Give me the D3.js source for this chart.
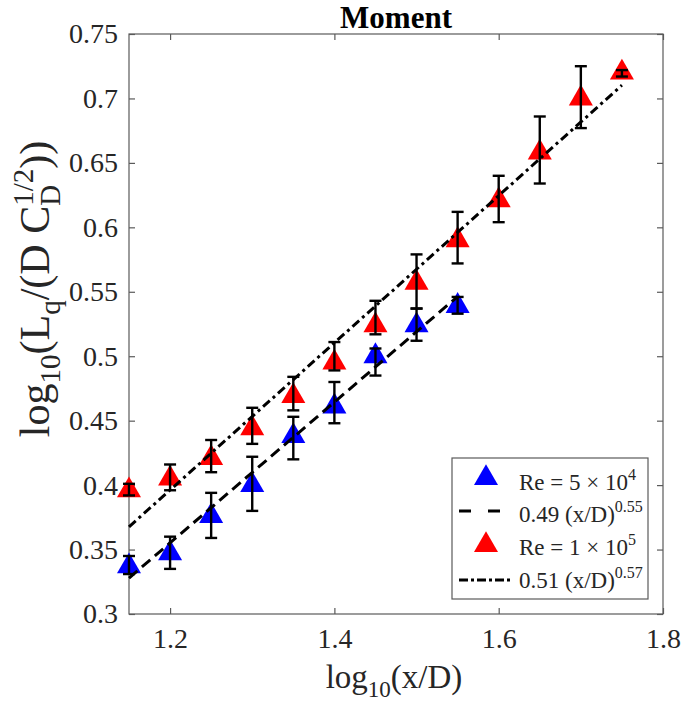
<!DOCTYPE html>
<html><head><meta charset="utf-8">
<script src="https://cdn.jsdelivr.net/npm/d3@7"></script>
<style>body{margin:0;background:#fff}text{font-family:"Liberation Serif","Times New Roman",serif}</style>
</head><body><svg id="c" width="685" height="713"></svg>
<script>
// ---- data ----
const blueX  = [1.15, 1.20, 1.25, 1.30, 1.35, 1.40, 1.45, 1.50, 1.55];
const blueY  = [0.337, 0.347, 0.376, 0.400, 0.438, 0.461, 0.500, 0.524, 0.539];
const blueLo = [0.331, 0.335, 0.359, 0.380, 0.420, 0.448, 0.485, 0.512, 0.533];
const blueHi = [0.345, 0.360, 0.394, 0.422, 0.453, 0.480, 0.506, 0.537, 0.546];

const redX  = [1.15, 1.20, 1.25, 1.30, 1.35, 1.40, 1.45, 1.50, 1.55, 1.60, 1.65, 1.70, 1.75];
const redY  = [0.396, 0.405, 0.421, 0.444, 0.469, 0.495, 0.524, 0.557, 0.590, 0.621, 0.658, 0.700, 0.720];
const redLo = [0.392, 0.396, 0.410, 0.432, 0.458, 0.489, 0.517, 0.537, 0.572, 0.604, 0.634, 0.677, 0.717];
const redHi = [0.401, 0.416, 0.435, 0.460, 0.484, 0.511, 0.543, 0.579, 0.612, 0.640, 0.686, 0.725, 0.722];

// fits in log space: y = a + b*x
const blueFit = {a: -0.300, b: 0.546, x0: 1.15, x1: 1.55};
const redFit  = {a: -0.289, b: 0.571, x0: 1.15, x1: 1.75};

const xTicks = [1.2, 1.4, 1.6, 1.8];
const xTickLabels = ["1.2", "1.4", "1.6", "1.8"];
const yTicks = [0.3, 0.35, 0.4, 0.45, 0.5, 0.55, 0.6, 0.65, 0.7, 0.75];
const yTickLabels = ["0.3", "0.35", "0.4", "0.45", "0.5", "0.55", "0.6", "0.65", "0.7", "0.75"];

// ---- layout ----
const L = 129, T = 34, R = 663, B = 614;
const svg = d3.select("#c");
const x = d3.scaleLinear().domain([1.15, 1.8]).range([L, R]);
const y = d3.scaleLinear().domain([0.3, 0.75]).range([B, T]);
const axisCol = "#5a5a5a", textCol = "#262626";

// frame
svg.append("rect").attr("x", L).attr("y", T).attr("width", R - L).attr("height", B - T)
  .attr("fill", "none").attr("stroke", axisCol).attr("stroke-width", 1.2);

function styleAxis(g) {
  g.select(".domain").remove();
  g.selectAll(".tick line").attr("stroke", axisCol).attr("stroke-width", 1.2);
  g.selectAll(".tick text").attr("fill", textCol).style("font-size", "28px")
    .style("font-family", '"Liberation Serif","Times New Roman",serif');
}
svg.append("g").attr("transform", `translate(0,${B})`)
  .call(d3.axisBottom(x).tickValues(xTicks).tickFormat((d, i) => xTickLabels[i]).tickSize(-6).tickPadding(14))
  .call(styleAxis);
svg.append("g").attr("transform", `translate(0,${T})`)
  .call(d3.axisTop(x).tickValues(xTicks).tickFormat("").tickSize(-6))
  .call(styleAxis);
svg.append("g").attr("transform", `translate(${L},0)`)
  .call(d3.axisLeft(y).tickValues(yTicks).tickFormat((d, i) => yTickLabels[i]).tickSize(-6).tickPadding(11))
  .call(styleAxis);
svg.append("g").attr("transform", `translate(${R},0)`)
  .call(d3.axisRight(y).tickValues(yTicks).tickFormat("").tickSize(-6))
  .call(styleAxis);

// ---- marks ----
const tri = d3.symbol().type(d3.symbolTriangle).size(250);
function drawSeries(xs, ys, color) {
  svg.append("g").selectAll("path").data(xs).join("path")
    .attr("d", tri).attr("fill", color)
    .attr("transform", (d, i) => `translate(${x(d)},${y(ys[i])})`);
}
drawSeries(blueX, blueY, "#0000ff");
drawSeries(redX, redY, "#ff0000");

function drawFit(f, dash) {
  const pts = [f.x0, f.x1];
  svg.append("path").datum(pts)
    .attr("d", d3.line().x(d => x(d)).y(d => y(f.a + f.b * d)))
    .attr("fill", "none").attr("stroke", "#000").attr("stroke-width", 3)
    .attr("stroke-dasharray", dash);
}
drawFit(blueFit, "11,6");
drawFit(redFit, "9,4,3,4");

function drawErr(xs, lo, hi) {
  const g = svg.append("g").attr("stroke", "#000").attr("stroke-width", 2.4);
  xs.forEach((d, i) => {
    const cx = x(d);
    g.append("line").attr("x1", cx).attr("x2", cx).attr("y1", y(lo[i])).attr("y2", y(hi[i]));
    g.append("line").attr("x1", cx - 6).attr("x2", cx + 6).attr("y1", y(lo[i])).attr("y2", y(lo[i]));
    g.append("line").attr("x1", cx - 6).attr("x2", cx + 6).attr("y1", y(hi[i])).attr("y2", y(hi[i]));
  });
}
drawErr(blueX, blueLo, blueHi);
drawErr(redX, redLo, redHi);

// ---- title & labels ----
svg.append("text").attr("x", (L + R) / 2).attr("y", 28).attr("text-anchor", "middle")
  .attr("fill", "#000").style("font-size", "31px").style("font-weight", "bold").text("Moment");

const xl = svg.append("text").attr("x", (L + R) / 2 - 2).attr("y", 688).attr("text-anchor", "middle")
  .attr("fill", textCol).style("font-size", "33px");
xl.append("tspan").text("log");
xl.append("tspan").attr("dy", 9).style("font-size", "23px").text("10");
xl.append("tspan").attr("dy", -9).text("(x/D)");

const yl = svg.append("text").attr("transform", "translate(49,289) rotate(-90)")
  .attr("text-anchor", "middle").attr("fill", textCol).style("font-size", "42px");
yl.append("tspan").text("log");
yl.append("tspan").attr("dy", 11).style("font-size", "29px").text("10");
yl.append("tspan").attr("dy", -11).text("(L");
yl.append("tspan").attr("dy", 11).style("font-size", "29px").text("q");
yl.append("tspan").attr("dy", -11).text("/(D C");
const supT = yl.append("tspan").attr("dy", -16).style("font-size", "29px").text("1/2");
const subT = yl.append("tspan").attr("dy", 27).style("font-size", "29px").text("D");
const closeT = yl.append("tspan").attr("dy", -11).text("))");
const supW = supT.node().getComputedTextLength();
const subW = subT.node().getComputedTextLength();
subT.attr("dx", -supW);
closeT.attr("dx", supW - subW);

// ---- legend ----
const lg = svg.append("g");
lg.append("rect").attr("x", 452).attr("y", 458).attr("width", 196).attr("height", 141)
  .attr("fill", "#fff").attr("stroke", axisCol).attr("stroke-width", 1.2);
const legRows = [
  {kind: "tri", color: "#0000ff", cy: 478, base: 490, main: "Re = 5 \u00d7 10", sup: "4"},
  {kind: "line", dash: "12,17", cy: 511, base: 522, main: "0.49 (x/D)", sup: "0.55"},
  {kind: "tri", color: "#ff0000", cy: 545, base: 555, main: "Re = 1 \u00d7 10", sup: "5"},
  {kind: "line", dash: "9,3,3,3", cy: 580, base: 588, main: "0.51 (x/D)", sup: "0.57"}
];
legRows.forEach(r => {
  if (r.kind === "tri") {
    lg.append("path").attr("d", tri).attr("fill", r.color).attr("transform", `translate(486,${r.cy})`);
  } else {
    lg.append("line").attr("x1", 459).attr("x2", 511).attr("y1", r.cy).attr("y2", r.cy)
      .attr("stroke", "#000").attr("stroke-width", 3).attr("stroke-dasharray", r.dash);
  }
  const t = lg.append("text").attr("x", 519).attr("y", r.base).attr("fill", textCol).style("font-size", "23px");
  t.append("tspan").text(r.main);
  t.append("tspan").attr("dy", -10).style("font-size", "16px").text(r.sup);
});
</script></body></html>
